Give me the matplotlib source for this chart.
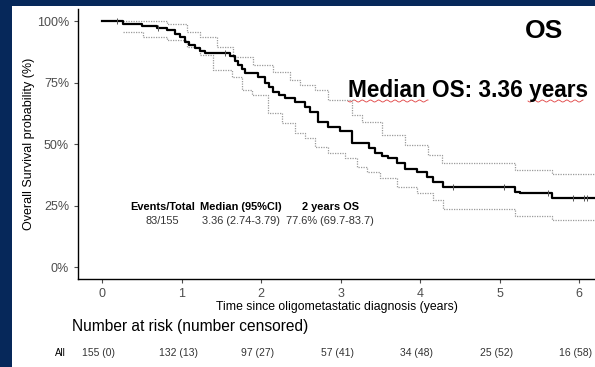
import matplotlib
matplotlib.use("Agg")
import matplotlib.pyplot as plt
import numpy as np
from matplotlib.patches import Rectangle
from matplotlib.lines import Line2D
from matplotlib.transforms import blended_transform_factory

plt.rcParams["font.family"] = ["Liberation Sans", "DejaVu Sans"]

# Kaplan-Meier estimate (years, survival %)
km_time = [0.0, 0.26, 0.50, 0.69, 0.82, 0.92, 0.98, 1.04, 1.10, 1.17, 1.23, 1.30,
           1.61, 1.67, 1.71, 1.76, 1.80, 1.96, 2.05, 2.10, 2.15, 2.22, 2.30, 2.43,
           2.55, 2.62, 2.72, 2.84, 2.99, 3.14, 3.36, 3.43, 3.52, 3.60, 3.71, 3.81,
           3.96, 4.09, 4.16, 4.29, 5.19, 5.26, 5.66, 6.20]
km_surv = [100.0, 98.8, 98.1, 97.0, 96.3, 94.8, 93.6, 91.6, 90.3, 88.9, 88.0, 87.1,
           85.8, 83.7, 82.1, 80.4, 78.7, 77.4, 74.7, 73.0, 71.3, 69.9, 68.6, 67.2,
           65.0, 63.1, 59.1, 57.0, 55.1, 50.3, 48.4, 46.3, 45.3, 44.3, 42.3, 39.8,
           38.6, 36.6, 34.6, 32.6, 30.6, 30.0, 28.0, 28.0]

# 95% confidence band
ci_up_time = [0.26, 0.82, 1.07, 1.23, 1.45, 1.65, 1.90, 2.15, 2.36, 2.49, 2.68, 2.84,
              3.14, 3.27, 3.52, 3.81, 4.10, 4.28, 5.19, 5.66, 6.20]
ci_up = [100.0, 98.8, 95.5, 93.5, 89.4, 85.4, 82.1, 79.3, 76.0, 74.0, 72.0, 67.9,
         61.8, 59.0, 53.7, 49.6, 45.5, 42.3, 39.4, 37.8, 37.8]
ci_lo_time = [0.26, 0.52, 0.82, 1.07, 1.23, 1.40, 1.64, 1.76, 1.89, 2.09, 2.26, 2.43,
              2.55, 2.68, 2.84, 3.06, 3.21, 3.33, 3.50, 3.71, 3.96, 4.16, 4.29, 5.19,
              5.66, 6.20]
ci_lo = [95.4, 93.5, 92.3, 89.4, 86.2, 80.1, 77.2, 72.0, 69.9, 62.6, 58.5, 54.5,
         52.4, 48.8, 46.3, 44.3, 40.7, 38.6, 36.2, 32.5, 30.1, 27.2, 23.6, 20.7,
         19.1, 19.1]

censor_time = [0.19, 0.70, 1.55, 4.42, 5.05, 5.61, 5.92, 6.06, 6.10]

risk_time = [0, 1, 2, 3, 4, 5, 6]
risk_labels = ["155 (0)", "132 (13)", "97 (27)", "57 (41)", "34 (48)", "25 (52)", "16 (58)"]

table_headers = ["Events/Total", "Median (95%CI)", "2 years OS"]
table_values = ["83/155", "3.36 (2.74-3.79)", "77.6% (69.7-83.7)"]
table_x = [0.76, 1.75, 2.87]

W, H = 595, 367
fig = plt.figure(figsize=(W / 100, H / 100), dpi=100, facecolor="#06285a")
fig.patches.append(Rectangle((12 / W, 0), 1, 1 - 6 / H, transform=fig.transFigure,
                             facecolor="white", edgecolor="none", zorder=-5))

ax = fig.add_axes([78 / W, 1 - 279.3 / H, 1 - 78 / W, (279.3 - 8.7) / H])
ax.set_facecolor("none")
ax.set_zorder(2)

ax.step(ci_up_time, ci_up, where="post", color="#9a9a9a", lw=0.9, ls=(0, (1, 1)))
ax.step(ci_lo_time, ci_lo, where="post", color="#9a9a9a", lw=0.9, ls=(0, (1, 1)))
ax.step(km_time, km_surv, where="post", color="black", lw=1.6)

idx = np.searchsorted(km_time, censor_time, side="right") - 1
ax.plot(censor_time, np.array(km_surv)[idx], ls="none", marker="|", ms=4,
        mew=0.7, color="#555555")

ax.set_xlim(-0.302, 6.2)
ax.set_ylim(-5, 105)
ax.set_xticks(range(7))
ax.set_yticks([0, 25, 50, 75, 100])
ax.set_yticklabels(["0%", "25%", "50%", "75%", "100%"])
ax.tick_params(colors="#4d4d4d", labelsize=9, length=3, width=0.8)
ax.tick_params(axis="x", pad=3)
for side in ["top", "right"]:
    ax.spines[side].set_visible(False)
for side in ["left", "bottom"]:
    ax.spines[side].set_linewidth(1.0)
    ax.spines[side].set_color("black")
ax.set_ylabel("Overall Survival probability (%)", fontsize=9, labelpad=1.5)
ax.set_xlabel("Time since oligometastatic diagnosis (years)", fontsize=8.8, labelpad=1)

for x, head, val in zip(table_x, table_headers, table_values):
    ax.text(x, 24.5, head, ha="center", va="center", fontsize=7.9, fontweight="bold")
    ax.text(x, 18.5, val, ha="center", va="center", fontsize=7.9, color="#333333")

fig.text(544 / W, 1 - 31 / H, "OS", ha="center", va="center", fontsize=19,
         fontweight="bold")
fig.text(348 / W, 1 - 91 / H, "Median OS: 3.36 years", ha="left", va="center",
         fontsize=16.3, fontweight="bold")

# spell-check squiggles
for x0, x1 in [(348, 428), (528, 583)]:
    xs = np.linspace(x0, x1, 200)
    ys = 101 + 1.0 * np.sin((xs - x0) / 1.3)
    fig.add_artist(Line2D(xs / W, 1 - ys / H, color="#e04040", lw=0.6,
                          transform=fig.transFigure))

fig.text(72 / W, 1 - 327 / H, "Number at risk (number censored)", ha="left",
         va="center", fontsize=11.2)

tr = blended_transform_factory(ax.transData, fig.transFigure)
fig.text(-0.52, 1 - 353 / H, "All", ha="center", va="center", fontsize=7,
         transform=tr)
for t, lab in zip(risk_time, risk_labels):
    fig.text(t - 0.04, 1 - 353 / H, lab, ha="center", va="center", fontsize=7.5,
             color="#333333", transform=tr)

fig.savefig("out.png", dpi=100, facecolor=fig.get_facecolor())
